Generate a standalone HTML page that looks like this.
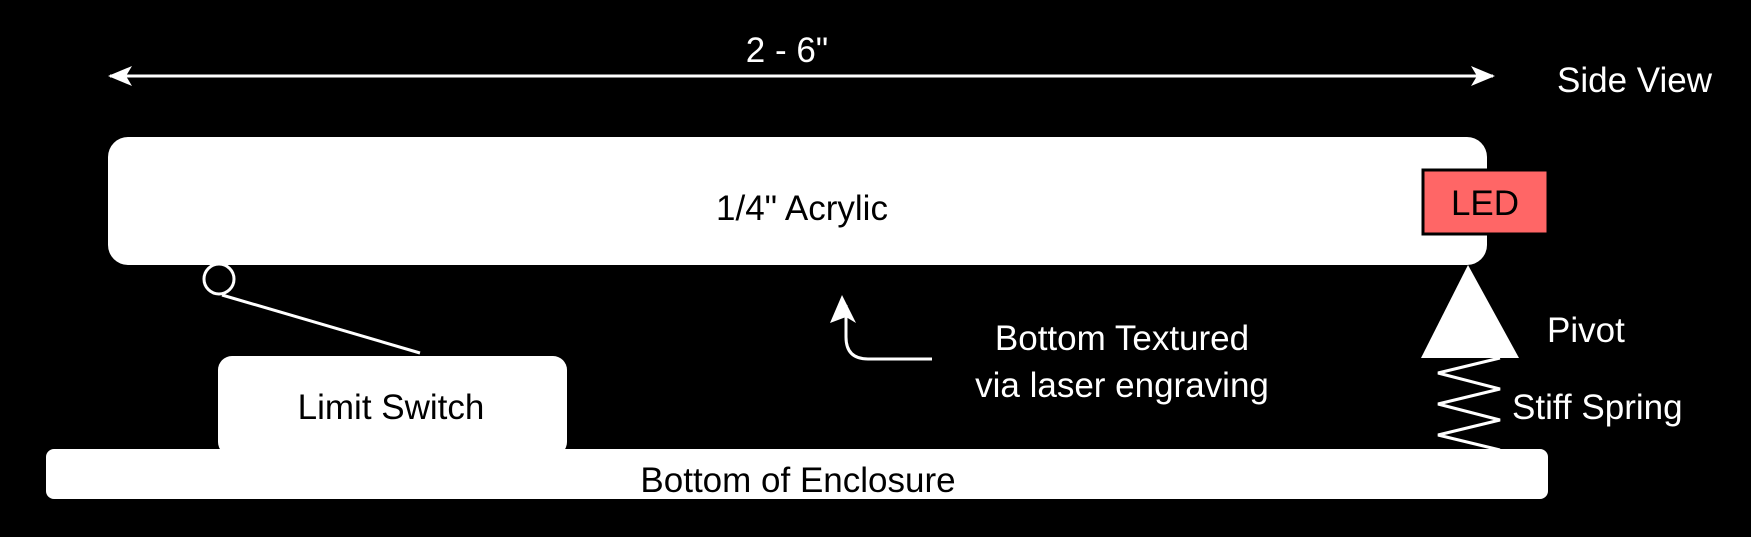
<!DOCTYPE html>
<html><head><meta charset="utf-8"><style>
html,body{margin:0;padding:0;background:#000;}
svg{display:block;}
text{font-family:"Liberation Sans",Arial,sans-serif;font-size:35px;}
</style></head><body>
<svg width="1751" height="537" viewBox="0 0 1751 537">
<defs>
<marker id="ah" markerWidth="24" markerHeight="20" refX="22" refY="10" orient="auto-start-reverse" markerUnits="userSpaceOnUse">
<path d="M0,0 L24,10 L0,20 L6,10 Z" fill="#fff"/></marker>
</defs>
<line x1="110" y1="76" x2="1493" y2="76" stroke="#fff" stroke-width="3" marker-start="url(#ah)" marker-end="url(#ah)"/>
<text x="787" y="62" fill="#fff" text-anchor="middle">2 - 6"</text>
<text x="1557" y="92" fill="#fff">Side View</text>
<rect x="108" y="137" width="1379" height="128" rx="20" fill="#fff"/>
<text x="802" y="220" fill="#000" text-anchor="middle">1/4" Acrylic</text>
<rect x="1423" y="170" width="125" height="64" fill="#ff6666" stroke="#000" stroke-width="3"/>
<text x="1485" y="215" fill="#000" text-anchor="middle">LED</text>
<polygon points="1468,265 1519,358 1421,358" fill="#fff"/>
<text x="1547" y="342" fill="#fff">Pivot</text>
<polyline points="1500,358 1438,373 1500,389 1438,404 1500,420 1438,435 1500,450" fill="none" stroke="#fff" stroke-width="3"/>
<text x="1512" y="419" fill="#fff">Stiff Spring</text>
<circle cx="219" cy="279" r="15" fill="none" stroke="#fff" stroke-width="3"/>
<line x1="222" y1="295" x2="420" y2="353" stroke="#fff" stroke-width="3"/>
<rect x="218" y="356" width="349" height="100" rx="14" fill="#fff"/>
<text x="391" y="419" fill="#000" text-anchor="middle">Limit Switch</text>
<rect x="46" y="449" width="1502" height="50" rx="8" fill="#fff"/>
<text x="798" y="492" fill="#000" text-anchor="middle">Bottom of Enclosure</text>
<path d="M932,359 L868,359 Q846,359 846,337 L846,305" fill="none" stroke="#fff" stroke-width="3"/>
<polygon points="842,295 856,323 846,317 830,323" fill="#fff"/>
<text x="1122" y="350" fill="#fff" text-anchor="middle">Bottom Textured</text>
<text x="1122" y="397" fill="#fff" text-anchor="middle">via laser engraving</text>
</svg>
</body></html>
